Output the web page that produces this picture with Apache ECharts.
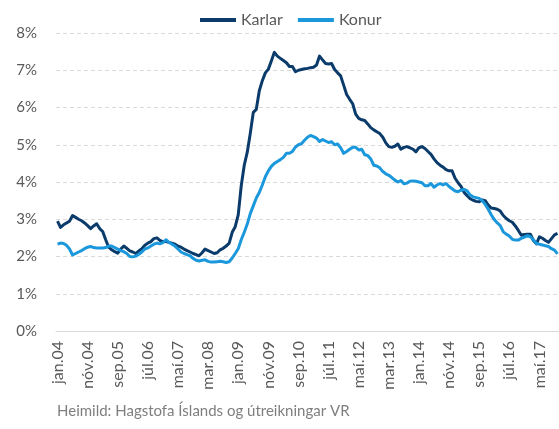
<!DOCTYPE html>
<html>
<head>
<meta charset="utf-8">
<script src="https://cdn.jsdelivr.net/npm/echarts@6/dist/echarts.min.js"></script>
<style>
  html, body { margin: 0; padding: 0; background: #fff; }
  #chart { width: 559px; height: 429px; }
</style>
</head>
<body>
<div id="chart"></div>
<script>
// mánuðir, jan.04 - nóv.17
var months = ['jan', 'feb', 'mar', 'apr', 'maí', 'jún', 'júl', 'ágú', 'sep', 'okt', 'nóv', 'des'];
var firstYear = 2004;
var monthCount = 167;

// atvinnuleysi karla, %
var karlar = [
  2.95, 2.78, 2.85, 2.90, 2.95, 3.10, 3.05, 3.00, 2.96, 2.90,
  2.83, 2.75, 2.82, 2.88, 2.75, 2.67, 2.45, 2.25, 2.18, 2.13,
  2.09, 2.20, 2.28, 2.22, 2.15, 2.12, 2.08, 2.15, 2.21, 2.30,
  2.36, 2.40, 2.48, 2.50, 2.43, 2.40, 2.40, 2.38, 2.36, 2.33,
  2.28, 2.25, 2.20, 2.16, 2.12, 2.08, 2.05, 2.02, 2.10, 2.20,
  2.16, 2.12, 2.08, 2.10, 2.18, 2.22, 2.28, 2.36, 2.65, 2.80,
  3.12, 3.90, 4.45, 4.80, 5.30, 5.87, 5.95, 6.45, 6.72, 6.93,
  7.03, 7.25, 7.48, 7.38, 7.32, 7.26, 7.20, 7.10, 7.10, 6.96,
  7.00, 7.02, 7.04, 7.05, 7.07, 7.08, 7.14, 7.38, 7.28, 7.18,
  7.17, 7.18, 7.02, 6.93, 6.85, 6.60, 6.35, 6.22, 6.10, 5.82,
  5.71, 5.67, 5.65, 5.56, 5.46, 5.40, 5.35, 5.30, 5.20, 5.05,
  4.95, 4.93, 4.96, 5.02, 4.88, 4.93, 4.95, 4.92, 4.88, 4.81,
  4.92, 4.95, 4.90, 4.82, 4.74, 4.62, 4.52, 4.45, 4.40, 4.33,
  4.30, 4.30, 4.10, 3.98, 3.88, 3.72, 3.63, 3.55, 3.51, 3.48,
  3.47, 3.52, 3.50, 3.38, 3.30, 3.29, 3.27, 3.22, 3.10, 3.02,
  2.96, 2.92, 2.82, 2.70, 2.57, 2.59, 2.60, 2.60, 2.43, 2.34,
  2.53, 2.49, 2.43, 2.38, 2.48, 2.58, 2.62
];

// atvinnuleysi kvenna, %
var konur = [
  2.33, 2.36, 2.35, 2.30, 2.20, 2.04, 2.08, 2.12, 2.16, 2.21,
  2.25, 2.27, 2.24, 2.23, 2.23, 2.23, 2.24, 2.28, 2.28, 2.24,
  2.20, 2.16, 2.13, 2.08, 2.00, 1.99, 2.01, 2.06, 2.12, 2.20,
  2.23, 2.28, 2.33, 2.36, 2.34, 2.37, 2.45, 2.38, 2.33, 2.28,
  2.20, 2.12, 2.08, 2.05, 2.02, 1.95, 1.90, 1.88, 1.90, 1.91,
  1.87, 1.85, 1.85, 1.86, 1.87, 1.86, 1.84, 1.86, 1.96, 2.08,
  2.21, 2.45, 2.65, 2.87, 3.15, 3.36, 3.57, 3.72, 3.92, 4.14,
  4.30, 4.42, 4.50, 4.55, 4.60, 4.66, 4.77, 4.77, 4.82, 4.94,
  5.00, 5.03, 5.12, 5.20, 5.25, 5.22, 5.18, 5.09, 5.14, 5.10,
  5.06, 5.08, 5.00, 5.02, 4.92, 4.77, 4.82, 4.88, 4.93, 4.93,
  4.86, 4.88, 4.73, 4.71, 4.62, 4.45, 4.43, 4.38, 4.28, 4.22,
  4.18, 4.12, 4.05, 4.00, 4.04, 3.95, 3.97, 4.02, 4.03, 4.02,
  4.00, 3.98, 3.90, 3.90, 3.96, 3.86, 3.92, 3.96, 3.92, 3.96,
  3.88, 3.82, 3.76, 3.74, 3.78, 3.80, 3.76, 3.65, 3.60, 3.58,
  3.56, 3.50, 3.40, 3.27, 3.12, 2.99, 2.90, 2.83, 2.66, 2.60,
  2.55, 2.46, 2.44, 2.44, 2.49, 2.52, 2.56, 2.53, 2.45, 2.35,
  2.33, 2.31, 2.29, 2.27, 2.21, 2.17, 2.07
];

var categories = [];
for (var i = 0; i < monthCount; i++) {
  var y = firstYear + Math.floor(i / 12);
  categories.push(months[i % 12] + '.' + String(y).slice(2));
}

var font = 'Lato, "Liberation Sans", sans-serif';
var grey = '#595959';

var myChart = echarts.init(document.getElementById('chart'));
myChart.setOption({
  animation: false,
  textStyle: { fontFamily: font },
  legend: {
    left: 195,
    top: 7,
    icon: 'rect',
    itemWidth: 36,
    itemHeight: 4,
    itemGap: 15,
    textStyle: { color: grey, fontSize: 16, fontFamily: font },
    data: ['Karlar', 'Konur']
  },
  grid: { left: 56, right: 0, top: 33, bottom: 98 },
  xAxis: {
    type: 'category',
    data: categories,
    boundaryGap: true,
    axisLine: { lineStyle: { color: '#d9d9d9', width: 1 } },
    axisTick: { interval: 9, length: 5, lineStyle: { color: '#d9d9d9' } },
    axisLabel: {
      interval: 9,
      rotate: 90,
      margin: 10,
      color: grey,
      fontSize: 16,
      fontFamily: font
    },
    splitLine: { show: false }
  },
  yAxis: {
    type: 'value',
    min: 0,
    max: 8,
    interval: 1,
    axisLine: { show: false },
    axisTick: { show: false },
    axisLabel: {
      formatter: '{value}%',
      color: grey,
      fontSize: 15,
      margin: 19,
      fontFamily: font
    },
    splitLine: { lineStyle: { color: '#d9d9d9', type: [4, 3], width: 1 } }
  },
  series: [
    {
      name: 'Karlar',
      type: 'line',
      data: karlar,
      symbol: 'none',
      color: '#0b3b6a',
      lineStyle: { width: 3, color: '#0b3b6a', join: 'round' }
    },
    {
      name: 'Konur',
      type: 'line',
      data: konur,
      symbol: 'none',
      color: '#1b98dc',
      lineStyle: { width: 3, color: '#1b98dc', join: 'round' }
    }
  ],
  graphic: [
    {
      type: 'text',
      left: 57,
      top: 404,
      style: {
        text: 'Heimild: Hagstofa Íslands og útreikningar VR',
        fill: '#7f7f7f',
        fontSize: 15,
        fontFamily: font
      }
    }
  ]
});
</script>
</body>
</html>
